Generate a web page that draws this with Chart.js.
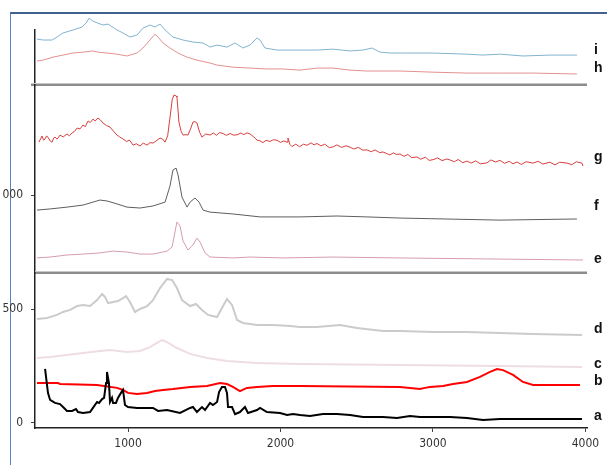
<!DOCTYPE html>
<html>
<head>
<meta charset="utf-8">
<script src="https://cdn.jsdelivr.net/npm/chart.js@4/dist/chart.umd.min.js"></script>
<style>
  body { margin: 0; background: #fff; }
  #wrap { position: relative; width: 607px; height: 465px; overflow: hidden; }
  #frame {
    position: absolute; left: 10px; top: 12px; width: 620px; height: 470px;
    border-top: 2px solid #41628f; border-left: 1px solid #5b82bd;
  }
  #chart { position: absolute; left: 0; top: 0; }
</style>
</head>
<body>
<div id="wrap">
  <div id="frame"></div>
  <canvas id="chart" width="607" height="465"></canvas>
</div>
<script>
// spectra a..i, each as [wavenumber, intensity] pairs
const specA = [[456,237],[475,132],[489,101],[521,88],[554,83],[574,70],[600,53],[633,53],[659,61],[672,48],[705,44],[751,48],[770,66],[797,92],[810,88],[830,105],[843,110],[856,175],[862,224],[875,175],[882,92],[895,110],[902,88],[921,88],[934,110],[954,132],[967,145],[980,79],[1000,70],[1059,66],[1125,66],[1164,66],[1197,53],[1256,57],[1341,44],[1407,66],[1426,70],[1452,48],[1485,70],[1505,57],[1538,88],[1557,79],[1584,92],[1597,136],[1616,158],[1636,158],[1649,132],[1656,70],[1682,70],[1702,39],[1734,48],[1767,70],[1787,44],[1846,57],[1866,66],[1911,48],[1997,44],[2043,35],[2082,39],[2128,35],[2193,31],[2279,39],[2370,39],[2456,35],[2541,26],[2672,26],[2764,22],[2849,31],[2915,26],[3000,26],[3111,26],[3223,22],[3328,13],[3439,18],[3656,18],[3879,18],[3977,18]];
const specB = [[403,175],[541,175],[554,171],[797,167],[928,154],[967,145],[1000,132],[1059,127],[1125,132],[1177,140],[1230,145],[1295,149],[1407,158],[1518,162],[1603,175],[1649,171],[1688,158],[1734,140],[1780,154],[1846,158],[1951,162],[2128,162],[2784,158],[2849,154],[2915,149],[2947,154],[2980,158],[3066,162],[3131,171],[3223,180],[3308,202],[3374,224],[3420,237],[3459,232],[3525,211],[3590,180],[3656,167],[3767,167],[3964,167]];
const specC = [[403,285],[489,289],[600,298],[705,307],[816,316],[882,320],[993,311],[1079,316],[1144,333],[1190,351],[1223,364],[1256,355],[1321,329],[1407,303],[1518,285],[1649,272],[1846,263],[2128,259],[2784,254],[3439,250],[3977,246]];
const specD = [[403,456],[469,461],[534,474],[574,487],[620,496],[666,513],[705,518],[751,513],[797,539],[830,566],[849,553],[869,526],[902,531],[934,535],[967,548],[987,557],[1013,531],[1046,487],[1079,500],[1125,513],[1164,539],[1210,592],[1256,632],[1289,627],[1321,592],[1354,539],[1407,513],[1446,522],[1485,496],[1525,474],[1584,465],[1616,504],[1649,544],[1682,518],[1715,452],[1754,439],[1846,430],[1951,430],[2062,425],[2128,421],[2239,421],[2390,430],[2502,417],[2672,404],[2784,404],[3000,399],[3223,399],[3439,395],[3656,390],[3977,386]];
const specE = [[403,724],[489,728],[600,737],[705,741],[816,746],[902,754],[993,750],[1079,741],[1164,741],[1256,754],[1289,772],[1308,838],[1321,882],[1341,864],[1361,798],[1393,759],[1426,781],[1452,811],[1472,794],[1505,746],[1538,728],[1688,724],[1800,728],[2016,724],[2344,728],[2784,724],[3439,719],[3984,715]];
const specF = [[403,934],[489,939],[600,947],[705,956],[816,978],[862,974],[928,961],[993,947],[1079,943],[1164,952],[1243,969],[1275,1039],[1295,1110],[1315,1118],[1328,1088],[1354,991],[1387,947],[1407,969],[1439,987],[1466,969],[1492,934],[1538,925],[1688,917],[1866,904],[2128,904],[2370,908],[2567,904],[2784,899],[3439,890],[3944,895]];
const specG = [[416,1232],[436,1259],[446,1241],[456,1246],[466,1259],[475,1254],[490,1237],[502,1232],[512,1250],[521,1254],[535,1245],[554,1263],[575,1255],[600,1268],[615,1260],[633,1272],[650,1280],[666,1294],[685,1290],[705,1307],[720,1300],[738,1325],[752,1318],[770,1333],[785,1325],[803,1338],[818,1330],[836,1316],[858,1305],[882,1298],[905,1280],[928,1263],[945,1255],[967,1246],[990,1235],[1010,1241],[1033,1219],[1055,1225],[1079,1215],[1100,1228],[1125,1219],[1145,1230],[1164,1228],[1190,1240],[1210,1250],[1228,1245],[1243,1232],[1260,1260],[1275,1338],[1290,1420],[1302,1439],[1315,1435],[1321,1430],[1334,1320],[1348,1280],[1361,1263],[1380,1265],[1393,1263],[1410,1290],[1426,1320],[1440,1322],[1452,1316],[1470,1275],[1485,1254],[1510,1268],[1538,1263],[1560,1272],[1580,1262],[1600,1274],[1623,1270],[1645,1262],[1670,1270],[1690,1263],[1715,1264],[1740,1272],[1760,1265],[1780,1273],[1800,1268],[1823,1256],[1846,1241],[1865,1238],[1885,1230],[1905,1240],[1930,1235],[1955,1243],[1977,1240],[2000,1231],[2020,1237],[2043,1232],[2049,1250],[2062,1222],[2075,1213],[2100,1223],[2125,1212],[2150,1223],[2174,1218],[2200,1229],[2220,1220],[2239,1226],[2265,1216],[2290,1223],[2320,1208],[2344,1211],[2370,1220],[2400,1209],[2430,1216],[2456,1210],[2480,1202],[2510,1209],[2540,1197],[2567,1198],[2595,1190],[2620,1198],[2650,1186],[2672,1189],[2700,1181],[2718,1176],[2740,1185],[2760,1178],[2784,1180],[2810,1170],[2835,1178],[2860,1164],[2895,1167],[2920,1157],[2950,1166],[2975,1152],[3000,1155],[3030,1163],[3060,1151],[3090,1158],[3111,1154],[3140,1146],[3165,1156],[3195,1142],[3223,1149],[3250,1140],[3280,1150],[3310,1137],[3354,1141],[3380,1154],[3410,1145],[3439,1152],[3470,1139],[3500,1148],[3525,1137],[3551,1145],[3580,1134],[3610,1146],[3656,1140],[3690,1148],[3720,1136],[3767,1144],[3800,1132],[3830,1144],[3879,1140],[3910,1133],[3940,1146],[3977,1140],[3984,1127]];
const specH = [[403,1588],[443,1592],[508,1605],[574,1614],[639,1623],[705,1627],[770,1632],[803,1627],[862,1623],[928,1618],[993,1610],[1059,1623],[1098,1645],[1144,1680],[1177,1706],[1197,1693],[1230,1667],[1275,1645],[1328,1623],[1387,1605],[1452,1592],[1538,1579],[1584,1570],[1688,1561],[1800,1557],[1911,1553],[2016,1553],[2128,1548],[2239,1557],[2344,1557],[2456,1548],[2567,1544],[2784,1544],[3000,1539],[3223,1535],[3439,1535],[3656,1535],[3944,1531]];
const specI = [[403,1684],[443,1680],[502,1680],[534,1693],[574,1711],[639,1724],[698,1737],[731,1759],[744,1776],[770,1763],[803,1754],[836,1746],[869,1750],[928,1724],[967,1711],[1013,1693],[1059,1702],[1098,1732],[1144,1746],[1177,1737],[1210,1750],[1243,1724],[1295,1693],[1361,1680],[1426,1671],[1492,1667],[1538,1649],[1584,1658],[1649,1649],[1702,1667],[1754,1645],[1800,1658],[1846,1689],[1866,1680],[1898,1645],[1977,1636],[2082,1636],[2239,1636],[2344,1640],[2456,1632],[2541,1636],[2600,1645],[2652,1627],[2718,1623],[2784,1623],[3000,1623],[3223,1618],[3328,1614],[3439,1618],[3590,1610],[3767,1614],[3944,1614]];

const spectra = [specA, specB, specC, specD, specE, specF, specG, specH, specI];
const tags = ['a', 'b', 'c', 'd', 'e', 'f', 'g', 'h', 'i'];
const colors = ['#000000', '#ff0000', '#eedde4', '#cbcbcb', '#d69cab', '#5e5e5e', '#d83e3e', '#e39090', '#82b3cf'];
const widths = [2, 2, 2, 2, 1, 1, 1, 1, 1];

const xTicks = [1000, 2000, 3000, 4000];
const yTicks = [0, 500, 1000];
const yTickText = ['0', '500', '000'];
const panelBreaks = [1487, 662];
// where each letter sits, in intensity units
const tagLevels = [31, 184, 259, 412, 719, 952, 1167, 1557, 1636];

const tickFont = { family: "'Liberation Sans Narrow', 'DejaVu Sans Condensed', sans-serif", size: 12 };

const panelPlugin = {
    id: 'panels',
    afterDatasetsDraw(chart) {
        const { ctx, chartArea, scales } = chart;
        ctx.save();
        panelBreaks.forEach((v, i) => {
            const y = Math.round(scales.y.getPixelForValue(v)) + 0.5;
            const x0 = i === 0 ? chartArea.left - 4 : chartArea.left;
            ctx.strokeStyle = '#c8c8c8';
            ctx.lineWidth = 1;
            ctx.beginPath(); ctx.moveTo(x0, y - 1); ctx.lineTo(chartArea.right, y - 1); ctx.stroke();
            ctx.strokeStyle = '#1a1a1a';
            ctx.lineWidth = 1.2;
            ctx.beginPath(); ctx.moveTo(x0, y + 0.5); ctx.lineTo(chartArea.right, y + 0.5); ctx.stroke();
        });
        ctx.fillStyle = '#111';
        ctx.font = "bold 14px 'Liberation Sans', Arial, sans-serif";
        ctx.textBaseline = 'middle';
        ctx.textAlign = 'left';
        tags.forEach((t, i) => {
            ctx.fillText(t, chartArea.right + 7, scales.y.getPixelForValue(tagLevels[i]));
        });
        ctx.restore();
    }
};

const datasets = spectra.map((s, i) => ({
    label: tags[i],
    data: s.map(([x, y]) => ({ x, y })),
    borderColor: colors[i],
    borderWidth: widths[i],
    pointRadius: 0,
    tension: 0,
    fill: false,
    clip: false
}));

new Chart(document.getElementById('chart'), {
    type: 'line',
    data: { datasets },
    options: {
        responsive: false,
        animation: false,
        layout: { padding: { top: 30, right: 20, left: 0, bottom: 0 } },
        plugins: { legend: { display: false }, tooltip: { enabled: false } },
        scales: {
            x: {
                type: 'linear',
                min: 390,
                max: 4010,
                afterBuildTicks: s => { s.ticks = xTicks.map(v => ({ value: v })); },
                afterFit: s => { s.height = 37; },
                grid: { drawOnChartArea: false, tickLength: 4, color: '#444' },
                border: { color: '#222', width: 1.5 },
                ticks: { padding: 5, font: tickFont, color: '#333', callback: v => String(v), maxRotation: 0 }
            },
            y: {
                type: 'linear',
                min: -22,
                max: 1724,
                afterBuildTicks: s => { s.ticks = yTicks.map(v => ({ value: v })); },
                afterFit: s => { s.width = 35; },
                grid: { drawOnChartArea: false, tickLength: 4, color: '#444' },
                border: { color: '#222', width: 1.5 },
                ticks: { padding: 8, font: tickFont, color: '#333', callback: v => yTickText[yTicks.indexOf(v)] }
            }
        }
    },
    plugins: [panelPlugin]
});
</script>
</body>
</html>
